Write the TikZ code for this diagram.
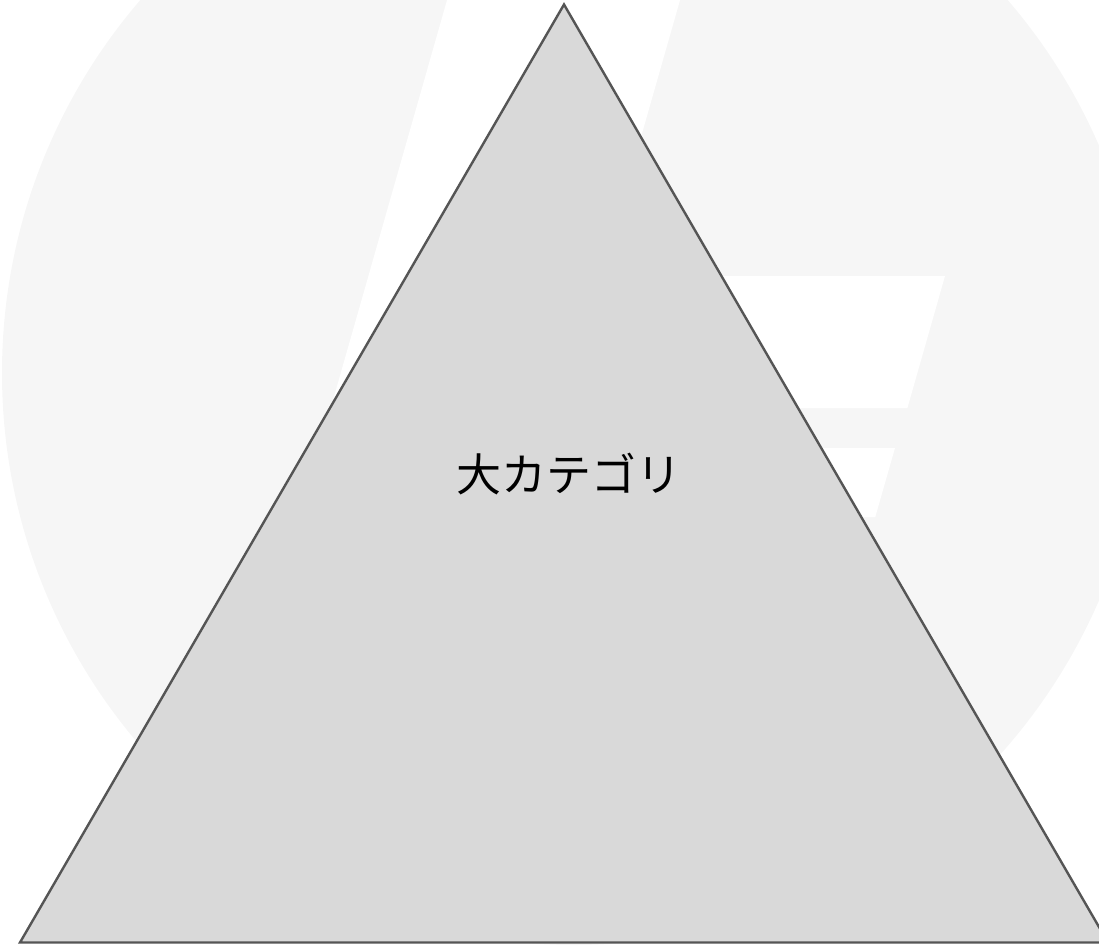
\documentclass[tikz,border=0pt]{standalone}
\usepackage{fontspec}
\newfontfamily\cjk{Noto Sans CJK JP}
\definecolor{wmgray}{HTML}{F6F6F6}
\definecolor{trifill}{HTML}{D9D9D9}
\definecolor{triline}{HTML}{555555}
\tikzset{
  watermark/.style={fill=wmgray, draw=none},
  cutout/.style={fill=white, draw=none},
  pyramid/.style={fill=trifill, draw=triline, line width=2.4pt, line join=miter},
  catlabel/.style={font=\cjk\fontsize{45}{54}\selectfont, text=black, inner sep=0pt}
}
\begin{document}
\begin{tikzpicture}[x=1pt,y=-1pt]
  \useasboundingbox (0,0) rectangle (1099,945);
  \clip (0,0) rectangle (1099,945);
  % background watermark
  \fill[watermark] (574,373) circle[radius=572];
  \fill[cutout] (449.9,-10) -- (682.9,-10) -- (409.3,950) -- (176.3,950) -- cycle;
  \fill[cutout] (550,276) -- (945,276) -- (907.4,408) -- (550,408) -- cycle;
  \fill[cutout] (600,448) -- (895,448) -- (875.3,517) -- (600,517) -- cycle;
  % triangle
  \coordinate (apex) at (564,4.5);
  \coordinate (bl) at (20,942.5);
  \coordinate (br) at (1108,942.5);
  \draw[pyramid] (bl) -- (apex) -- (br) -- cycle;
  \node[catlabel] (cat) at (568.5,474) {大カテゴリ};
\end{tikzpicture}
\end{document}
